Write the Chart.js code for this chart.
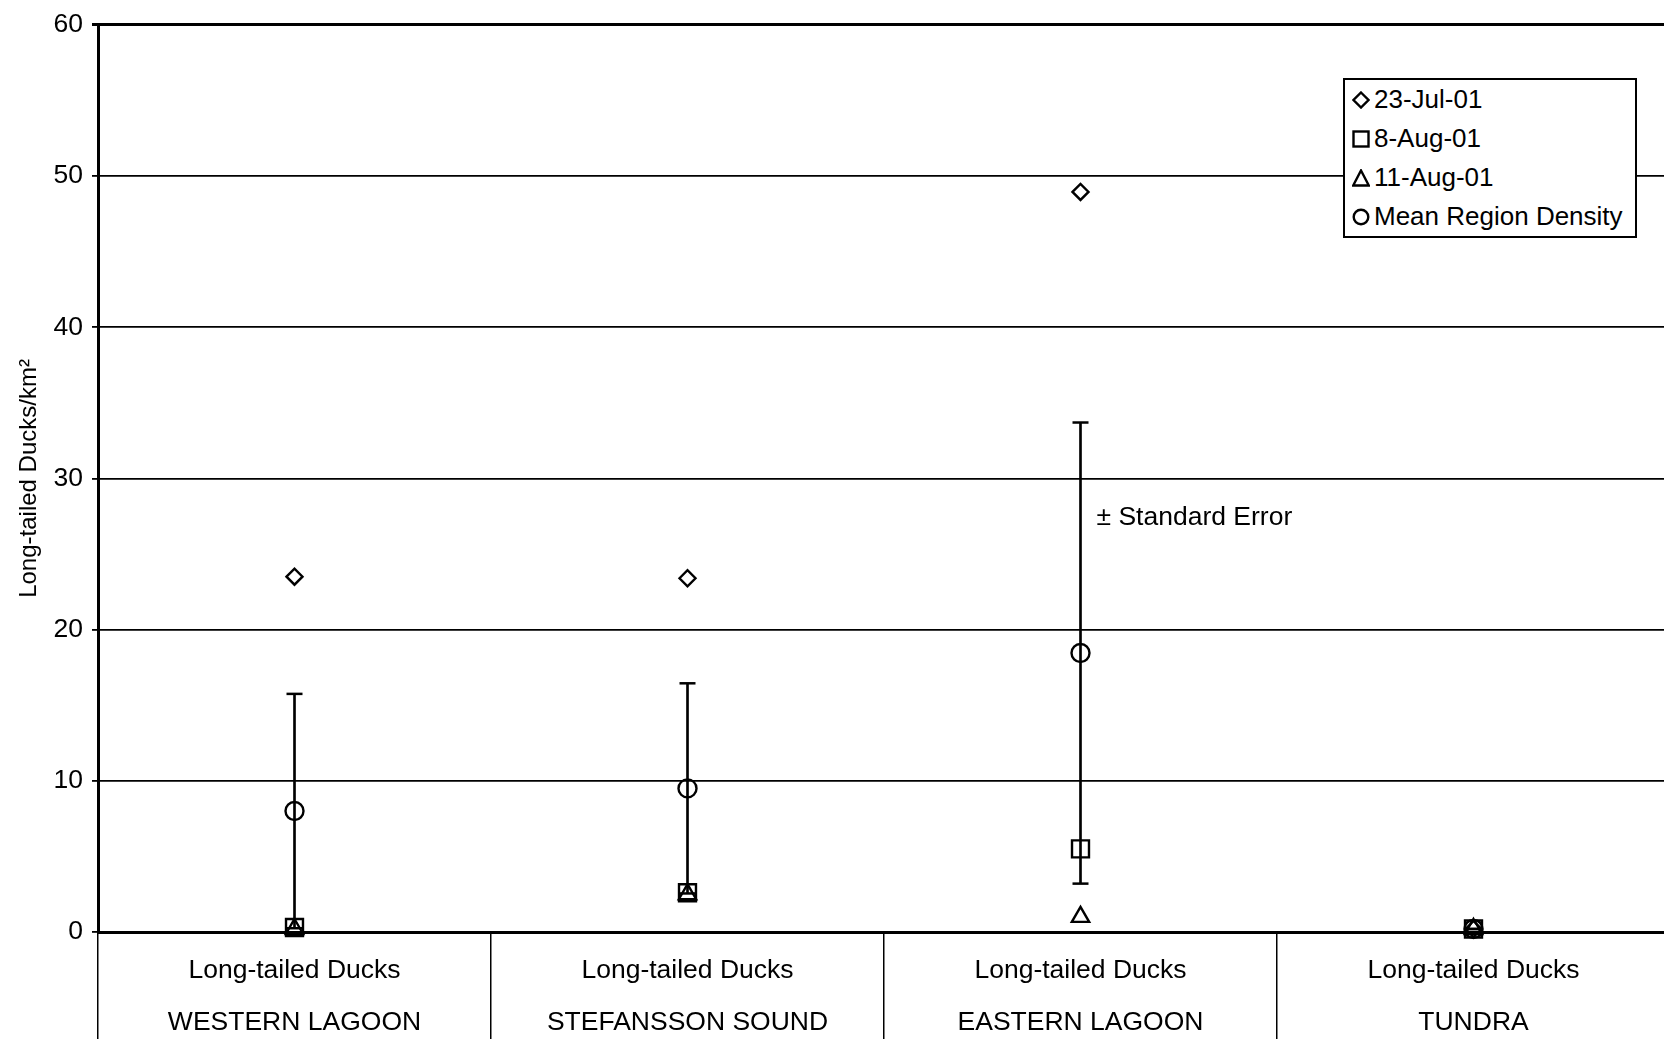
<!DOCTYPE html>
<html>
<head>
<meta charset="utf-8">
<script src="https://cdn.jsdelivr.net/npm/chart.js@4.4.1/dist/chart.umd.min.js"></script>
<style>
  html, body { margin: 0; padding: 0; background: #fff; overflow: hidden; }
  #wrap { position: absolute; left: 0; top: 0; width: 1680px; height: 1039px; }
  #legend {
    position: absolute; left: 1343px; top: 78px; width: 290px;
    background: #fff; border: 2px solid #000;
    font-family: 'Liberation Sans', Arial, sans-serif; font-size: 26px; color: #000;
  }
  #legend .row { height: 39px; display: flex; align-items: center; white-space: nowrap; }
  #legend svg { margin-left: 7px; margin-right: 4px; flex: none; }
</style>
</head>
<body>
<div id="wrap">
  <canvas id="chart" width="1680" height="1039"></canvas>
  <div id="legend"></div>
</div>
<script>
// Data
const species = 'Long-tailed Ducks';
const regions = ['WESTERN LAGOON', 'STEFANSSON SOUND', 'EASTERN LAGOON', 'TUNDRA'];
const seriesNames = ['23-Jul-01', '8-Aug-01', '11-Aug-01', 'Mean Region Density'];
const jul23 = [23.5, 23.4, 48.95, 0.2];
const aug08 = [0.3, 2.6, 5.5, 0.2];
const aug11 = [0.2, 2.5, 1.0, 0.2];
const meanDensity = [8.0, 9.5, 18.45, 0.2];
const stdError = [7.75, 6.95, 15.25, 0];
const yTicks = [0, 10, 20, 30, 40, 50, 60];
const yTitle = 'Long-tailed Ducks/km\u00B2';
const seNote = { text: '\u00B1 Standard Error', region: 2, value: 27.4 };

const FONT = "'Liberation Sans', Arial, sans-serif";
const markerStyles = ['rectRot', 'rect', 'triangle', 'circle'];
const markerRadius = [8, 12, 10, 9];

const labels = regions.map(r => [species, r]);

function pointSeries(values, i) {
    return {
        label: seriesNames[i],
        data: values,
        showLine: false,
        pointStyle: markerStyles[i],
        pointRadius: markerRadius[i],
        pointBorderWidth: 2.4,
        pointBorderColor: '#000',
        pointBackgroundColor: 'rgba(0,0,0,0)',
        borderColor: '#000',
        clip: false
    };
}

function capSeries(values) {
    return {
        label: 'cap',
        data: values,
        showLine: false,
        pointStyle: 'line',
        pointRadius: 8,
        pointBorderWidth: 2.5,
        pointBorderColor: '#000',
        borderColor: '#000',
        clip: false
    };
}

const seNotePlugin = {
    id: 'seNote',
    afterDatasetsDraw(chart) {
        const { ctx, scales: { x, y } } = chart;
        ctx.save();
        ctx.font = '26.5px ' + FONT;
        ctx.fillStyle = '#000';
        ctx.textBaseline = 'middle';
        ctx.fillText(seNote.text, x.getPixelForValue(seNote.region) + 16, y.getPixelForValue(seNote.value));
        ctx.restore();
    }
};

new Chart(document.getElementById('chart').getContext('2d'), {
    type: 'line',
    data: {
        labels: labels,
        datasets: [
            pointSeries(jul23, 0),
            pointSeries(aug08, 1),
            pointSeries(aug11, 2),
            pointSeries(meanDensity, 3),
            capSeries(meanDensity.map((m, i) => m + stdError[i])),
            capSeries(meanDensity.map((m, i) => m - stdError[i])),
            {
                type: 'bar',
                label: 'se',
                data: meanDensity.map((m, i) => [m - stdError[i], m + stdError[i]]),
                backgroundColor: '#000',
                borderWidth: 0,
                barThickness: 2
            }
        ]
    },
    options: {
        responsive: false,
        animation: false,
        devicePixelRatio: 1,
        layout: { autoPadding: false, padding: { top: 20, right: 10, left: 0, bottom: 0 } },
        plugins: { legend: { display: false }, tooltip: { enabled: false } },
        scales: {
            x: {
                type: 'category',
                offset: true,
                grid: { offset: true, drawOnChartArea: false, drawTicks: true, tickLength: 110, color: '#000', lineWidth: 1.5 },
                border: { display: true, color: '#000', width: 3 },
                ticks: {
                    color: '#000',
                    font: { family: FONT, size: 26.5, lineHeight: 1.96 },
                    padding: -97,
                    maxRotation: 0,
                    autoSkip: false
                },
                afterFit(scale) { scale.height = 107; }
            },
            y: {
                min: yTicks[0],
                max: yTicks[yTicks.length - 1],
                ticks: {
                    stepSize: yTicks[1] - yTicks[0],
                    color: '#000',
                    font: { family: FONT, size: 26.5 },
                    padding: 9
                },
                grid: {
                    color: '#000',
                    lineWidth: (c) => (c.tick && c.tick.value === yTicks[yTicks.length - 1]) ? 3 : 1.8,
                    tickLength: 6
                },
                border: { display: true, color: '#000', width: 3 },
                title: {
                    display: true,
                    text: yTitle,
                    color: '#000',
                    font: { family: FONT, size: 24 },
                    padding: { top: 15, bottom: 0 }
                },
                afterFit(scale) { scale.width = 98; }
            }
        }
    },
    plugins: [seNotePlugin]
});

// Legend box drawn as html, markers as small svg shapes
const shapes = {
    rectRot: '<polygon points="9,1.5 16.5,9 9,16.5 1.5,9" />',
    rect: '<rect x="1.5" y="1.5" width="15" height="15" />',
    triangle: '<polygon points="9,1.5 16.8,16.5 1.2,16.5" />',
    circle: '<circle cx="9" cy="9" r="7.3" />'
};
document.getElementById('legend').innerHTML = seriesNames.map((name, i) =>
    '<div class="row"><svg width="18" height="18" viewBox="0 0 18 18" fill="none" stroke="#000" stroke-width="2.4">' +
    shapes[markerStyles[i]] + '</svg><span>' + name + '</span></div>'
).join('');
</script>
</body>
</html>
